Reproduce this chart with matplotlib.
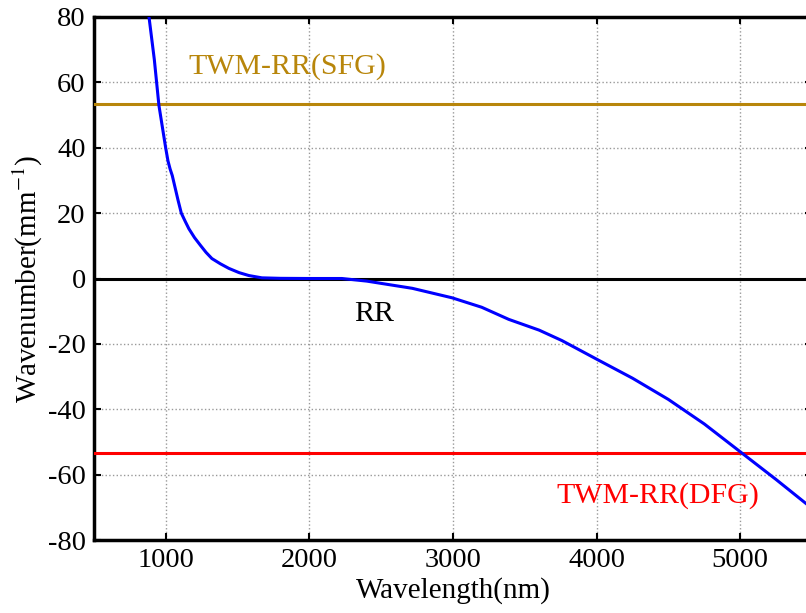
import matplotlib
matplotlib.use('Agg')
import matplotlib.pyplot as plt

# Configuration
plt.rcParams['font.family'] = ['Liberation Serif', 'DejaVu Serif']
plt.rcParams['mathtext.fontset'] = 'stix'
plt.rcParams['axes.unicode_minus'] = False

# Dispersion curve (wavelength nm, wavenumber mm^-1)
wavelength = [883, 920, 952, 999, 1015, 1030, 1045, 1061, 1085, 1108, 1135,
              1161, 1200, 1242, 1280, 1321, 1380, 1439, 1510, 1579, 1669,
              1800, 2000, 2226, 2400, 2716, 2993, 3200, 3388, 3600, 3759,
              4014, 4250, 4500, 4750, 5000, 5250, 5460, 5500]
wavenumber = [80, 67, 53, 40, 36, 33.5, 31.5, 28.5, 24, 20, 17.5,
              15.2, 12.5, 10.1, 8, 6.1, 4.5, 3.1, 1.8, 0.9, 0.2,
              0.05, 0, 0, -0.8, -3.0, -5.9, -8.8, -12.5, -15.8, -19,
              -25, -30.5, -37, -44.5, -53, -61.5, -68.9, -70.3]

sfg_level = 53.3
dfg_level = -53.3
rr_level = 0

x_ticks = [1000, 2000, 3000, 4000, 5000]
y_ticks = [-80, -60, -40, -20, 0, 20, 40, 60, 80]

fig = plt.figure(figsize=(8.06, 6.13), dpi=100)
ax = fig.add_axes([94 / 806, 73 / 613, 718 / 806, 523 / 613])

ax.axhline(sfg_level, color='#B8860B', lw=2.2, zorder=3)
ax.axhline(dfg_level, color='#FF0000', lw=2.2, zorder=3)
ax.axhline(rr_level, color='black', lw=2.2, zorder=3)
ax.plot(wavelength, wavenumber, color='#0000FF', lw=2.2, zorder=4)

ax.text(1160, 65, 'TWM-RR(SFG)', color='#B8860B', fontsize=21.5, va='center')
ax.text(3720, -66.5, 'TWM-RR(DFG)', color='#FF0000', fontsize=21.5, va='center')
ax.text(2450, -10.8, 'RR', color='black', fontsize=21.5, ha='center', va='center')

ax.set_xlim(500, 5500)
ax.set_ylim(-80, 80)
ax.set_xticks(x_ticks)
ax.set_yticks(y_ticks)
ax.grid(True, color='#999999', linestyle=':', linewidth=1.0)
ax.tick_params(direction='in', length=5, width=1.5, labelsize=20.5,
               top=True, right=True, pad=6)
for sp in ax.spines.values():
    sp.set_linewidth(2.5)

ax.set_xlabel('Wavelength(nm)', fontsize=21, labelpad=3)
ax.set_ylabel('Wavenumber(mm$^{-1}$)', fontsize=21, labelpad=2)

fig.savefig('out.png', dpi=100)
